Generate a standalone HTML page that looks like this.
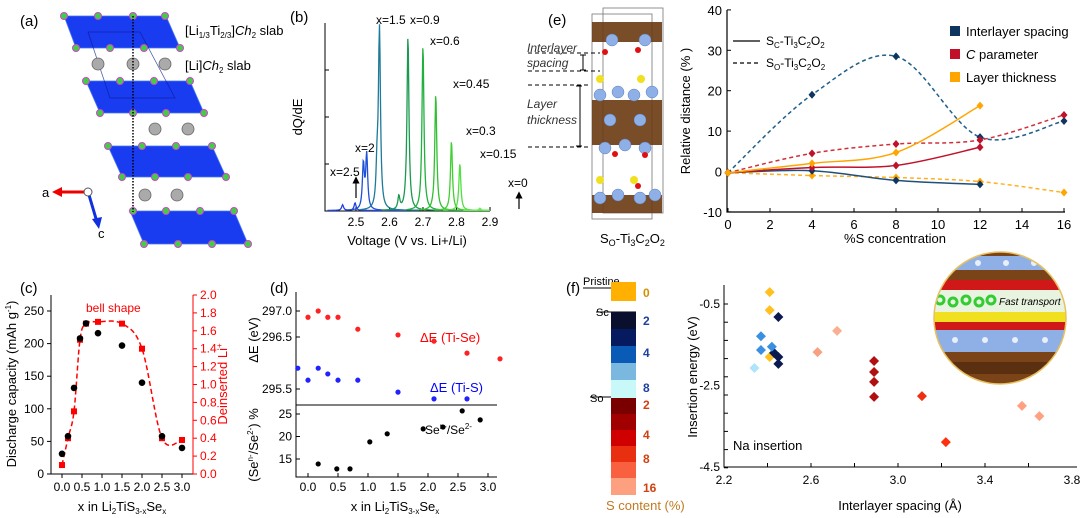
<!DOCTYPE html>
<html><head><meta charset="utf-8"><style>
html,body{margin:0;padding:0;background:#fff;}
svg{display:block;font-family:"Liberation Sans",Arial,sans-serif;}
</style></head><body>
<svg id="fig" width="1080" height="518" viewBox="0 0 1080 518" xmlns="http://www.w3.org/2000/svg">
<defs>
<clipPath id="insetClip"><circle cx="1000" cy="318" r="66"/></clipPath>
<marker id="arrB" markerWidth="6" markerHeight="6" refX="3" refY="3" orient="auto"><path d="M0,0 L6,3 L0,6 z" fill="#000"/></marker>
</defs>

<g>
<text x="20" y="26" font-size="15">(a)</text>
<g fill="#1a3cf0" stroke="#4a7af0" stroke-width="0.8">
<polygon points="64,16 166,16 180,48 76,48"/>
<polygon points="86,81 190,81 204,113 100,113"/>
<polygon points="108,146 212,146 226,177 122,177"/>
<polygon points="130,211 234,211 248,244 144,244"/>
</g>
<g stroke="#0a1a90" stroke-width="0.8" fill="none" opacity="0.7">
<path d="M88,32 L140,32 L175,98 L110,98 Z"/>
</g>
<g fill="#aaa" stroke="#666" stroke-width="0.8">
<circle cx="98" cy="64" r="6"/><circle cx="133" cy="64" r="6"/><circle cx="165" cy="64" r="6"/>
<circle cx="155" cy="129" r="6"/><circle cx="188" cy="129" r="6"/>
<circle cx="145" cy="195" r="6"/><circle cx="177" cy="195" r="6"/>
</g>
<g fill="#4c4" stroke="#c4c" stroke-width="1">
<circle cx="64" cy="16" r="3.5"/><circle cx="98" cy="16" r="3.5"/><circle cx="133" cy="16" r="3.5"/><circle cx="165" cy="16" r="3.5"/>
<circle cx="76" cy="48" r="3.5"/><circle cx="110" cy="48" r="3.5"/><circle cx="144" cy="48" r="3.5"/><circle cx="180" cy="48" r="3.5"/>
<circle cx="86" cy="81" r="3.5"/><circle cx="120" cy="81" r="3.5"/><circle cx="154" cy="81" r="3.5"/><circle cx="190" cy="81" r="3.5"/>
<circle cx="100" cy="113" r="3.5"/><circle cx="133" cy="113" r="3.5"/><circle cx="166" cy="113" r="3.5"/><circle cx="204" cy="113" r="3.5"/>
<circle cx="108" cy="146" r="3.5"/><circle cx="142" cy="146" r="3.5"/><circle cx="176" cy="146" r="3.5"/><circle cx="212" cy="146" r="3.5"/>
<circle cx="122" cy="177" r="3.5"/><circle cx="155" cy="177" r="3.5"/><circle cx="188" cy="177" r="3.5"/><circle cx="226" cy="177" r="3.5"/>
<circle cx="133" cy="211" r="3.5"/><circle cx="166" cy="211" r="3.5"/><circle cx="200" cy="211" r="3.5"/><circle cx="234" cy="211" r="3.5"/>
<circle cx="144" cy="244" r="3.5"/><circle cx="178" cy="244" r="3.5"/><circle cx="212" cy="244" r="3.5"/><circle cx="248" cy="244" r="3.5"/>
</g>
<line x1="133" y1="16" x2="133" y2="212" stroke="#000" stroke-width="1.5" stroke-dasharray="1.5,1.5"/>
<line x1="86" y1="192" x2="58" y2="192" stroke="#e00" stroke-width="3"/>
<polygon points="52,192 62,187 62,197" fill="#e00"/>
<line x1="89" y1="195" x2="97" y2="222" stroke="#1030e0" stroke-width="3"/>
<polygon points="99,229 92,219 102,217" fill="#1030e0"/>
<circle cx="88" cy="192" r="4" fill="#fff" stroke="#555"/>
<text x="42" y="197" font-size="13">a</text>
<text x="98" y="238" font-size="13">c</text>
<text x="185" y="35" font-size="13">[Li<tspan font-size="8" dy="3">1/3</tspan><tspan dy="-3">Ti</tspan><tspan font-size="8" dy="3">2/3</tspan><tspan dy="-3">]</tspan><tspan font-style="italic">Ch</tspan><tspan font-size="8" dy="3">2</tspan><tspan dy="-3"> slab</tspan></text>
<text x="185" y="70" font-size="13">[Li]<tspan font-style="italic">Ch</tspan><tspan font-size="8" dy="3">2</tspan><tspan dy="-3"> slab</tspan></text>
</g>

<g id="pb">
<text x="290" y="22" font-size="15">(b)</text>
<text transform="translate(302,117) rotate(-90)" text-anchor="middle" font-size="13">dQ/dE</text>
<text x="407" y="245" text-anchor="middle" font-size="13">Voltage (V vs. Li+/Li)</text>
</g>

<g>
<text x="548" y="25" font-size="15">(e)</text>
<g stroke="#777" fill="none" stroke-width="0.8"><rect x="592" y="14" width="60" height="205"/><rect x="603" y="8" width="60" height="205"/></g>
<g fill="#6b3a12"><rect x="592" y="22" width="70" height="20" opacity="0.9"/><rect x="592" y="100" width="70" height="45" opacity="0.9"/><rect x="592" y="195" width="70" height="18" opacity="0.9"/></g>
<g fill="#8fb0e6" stroke="#5a7fc0" stroke-width="0.5">
<circle cx="612" cy="40" r="6"/><circle cx="645" cy="40" r="6"/>
<circle cx="600" cy="95" r="6"/><circle cx="618" cy="92" r="6"/><circle cx="634" cy="95" r="6"/><circle cx="652" cy="92" r="6"/>
<circle cx="610" cy="120" r="6"/><circle cx="640" cy="120" r="6"/>
<circle cx="605" cy="148" r="6"/><circle cx="625" cy="145" r="6"/><circle cx="645" cy="148" r="6"/>
<circle cx="600" cy="198" r="6"/><circle cx="618" cy="195" r="6"/><circle cx="640" cy="198" r="6"/><circle cx="655" cy="195" r="6"/>
</g>
<g fill="#e01010"><circle cx="605" cy="52" r="3"/><circle cx="638" cy="50" r="3"/><circle cx="615" cy="154" r="3"/><circle cx="645" cy="155" r="3"/><circle cx="638" cy="186" r="3"/></g>
<g fill="#f0e020"><circle cx="600" cy="79" r="4"/><circle cx="641" cy="79" r="4"/><circle cx="600" cy="180" r="4"/><circle cx="634" cy="180" r="4"/></g>
<g stroke="#000" stroke-dasharray="4,3" stroke-width="1"><line x1="528" y1="53" x2="600" y2="53"/><line x1="528" y1="71" x2="600" y2="71"/><line x1="528" y1="85" x2="590" y2="85"/><line x1="528" y1="147" x2="590" y2="147"/></g>
<path d="M580,55 H586 M583,55 V70 M580,70 H586 M576,86 H582 M580,86 V146 M576,146 H582" stroke="#000" fill="none"/>
<text x="527" y="52" font-size="12" font-style="italic" fill="#333">Interlayer</text>
<text x="527" y="67" font-size="12" font-style="italic" fill="#333">spacing</text>
<text x="527" y="108" font-size="12" font-style="italic" fill="#333">Layer</text>
<text x="527" y="124" font-size="12" font-style="italic" fill="#333">thickness</text>
<text x="600" y="243" font-size="13">S<tspan font-size="9" dy="3">O</tspan><tspan dy="-3">-Ti</tspan><tspan font-size="9" dy="3">3</tspan><tspan dy="-3">C</tspan><tspan font-size="9" dy="3">2</tspan><tspan dy="-3">O</tspan><tspan font-size="9" dy="3">2</tspan></text>
</g>

<g id="pe">
<text transform="translate(690,111) rotate(-90)" text-anchor="middle" font-size="13">Relative distance (% )</text>
<text x="895" y="243" text-anchor="middle" font-size="13">%S concentration</text>
<g>
<line x1="733" y1="41" x2="760" y2="41" stroke="#000" stroke-width="1.2"/>
<text x="766" y="45" font-size="12">S<tspan font-size="8" dy="3">C</tspan><tspan dy="-3">-Ti</tspan><tspan font-size="8" dy="3">3</tspan><tspan dy="-3">C</tspan><tspan font-size="8" dy="3">2</tspan><tspan dy="-3">O</tspan><tspan font-size="8" dy="3">2</tspan></text>
<line x1="733" y1="63" x2="760" y2="63" stroke="#000" stroke-width="1.2" stroke-dasharray="4,3"/>
<text x="766" y="67" font-size="12">S<tspan font-size="8" dy="3">O</tspan><tspan dy="-3">-Ti</tspan><tspan font-size="8" dy="3">3</tspan><tspan dy="-3">C</tspan><tspan font-size="8" dy="3">2</tspan><tspan dy="-3">O</tspan><tspan font-size="8" dy="3">2</tspan></text>
</g>
<g>
<rect x="950" y="26" width="10" height="10" fill="#0d3560"/>
<text x="966" y="36" font-size="13">Interlayer spacing</text>
<rect x="950" y="49" width="10" height="10" fill="#c0102a"/>
<text x="966" y="59" font-size="13"><tspan font-style="italic">C</tspan> parameter</text>
<rect x="950" y="72" width="10" height="10" fill="#ffa500"/>
<text x="966" y="82" font-size="13">Layer thickness</text>
</g>
</g>

<g id="pc">
<text x="20" y="293" font-size="15">(c)</text>
<text x="86" y="312" font-size="12" fill="#f00">bell shape</text>
<text transform="translate(16,384) rotate(-90)" text-anchor="middle" font-size="13">Discharge capacity (mAh g<tspan font-size="8" dy="-5">-1</tspan><tspan dy="5">)</tspan></text>
<text transform="translate(227,384) rotate(-90)" text-anchor="middle" font-size="13" fill="#f00">Deinserted Li<tspan font-size="8" dy="-5">+</tspan></text>
<text x="122" y="511" text-anchor="middle" font-size="13">x in Li<tspan font-size="8" dy="3">2</tspan><tspan dy="-3">TiS</tspan><tspan font-size="8" dy="3">3-x</tspan><tspan dy="-3">Se</tspan><tspan font-size="8" dy="3">x</tspan></text>
</g>

<g id="pd">
<text x="270" y="293" font-size="15">(d)</text>
<text transform="translate(258,340) rotate(-90)" text-anchor="middle" font-size="13">ΔE (eV)</text>
<text transform="translate(258,445) rotate(-90)" text-anchor="middle" font-size="13">(Se<tspan font-size="8" dy="-5">n-</tspan><tspan dy="5">/Se</tspan><tspan font-size="8" dy="-5">2-</tspan><tspan dy="5">) %</tspan></text>
<text x="420" y="342" font-size="13" fill="#f00">ΔE (Ti-Se)</text>
<text x="430" y="392" font-size="13" fill="#00f">ΔE (Ti-S)</text>
<text x="425" y="434" font-size="12">Se<tspan font-size="8" dy="-5">n-</tspan><tspan dy="5">/Se</tspan><tspan font-size="8" dy="-5">2-</tspan></text>
<text x="395" y="511" text-anchor="middle" font-size="13">x in Li<tspan font-size="8" dy="3">2</tspan><tspan dy="-3">TiS</tspan><tspan font-size="8" dy="3">3-x</tspan><tspan dy="-3">Se</tspan><tspan font-size="8" dy="3">x</tspan></text>
</g>

<g id="pf">
<text x="566" y="293" font-size="15">(f)</text>
<text x="583" y="285" font-size="11">Pristine</text>
<line x1="583" y1="288" x2="636" y2="288" stroke="#000"/>
<text x="596" y="316" font-size="11">Sc</text>
<line x1="596" y1="312" x2="636" y2="312" stroke="#000"/>
<text x="590" y="402" font-size="11">So</text>
<line x1="590" y1="397" x2="636" y2="397" stroke="#000"/>
<g id="cbar"></g>
<text x="606" y="510" font-size="13" fill="#c07a20">S content (%)</text>
<text transform="translate(697,377) rotate(-90)" text-anchor="middle" font-size="13">Insertion energy (eV)</text>
<text x="900" y="510" text-anchor="middle" font-size="13">Interlayer spacing (Å)</text>
<text x="733" y="450" font-size="13">Na insertion</text>
<g clip-path="url(#insetClip)">
<rect x="930" y="250" width="140" height="140" fill="#7a4418"/>
<rect x="930" y="256" width="140" height="14" fill="#8fb0e6"/>
<rect x="930" y="280" width="140" height="10" fill="#d01818"/>
<rect x="930" y="290" width="140" height="22" fill="#e8f4e0"/>
<rect x="930" y="312" width="140" height="10" fill="#f0e020"/>
<rect x="930" y="322" width="140" height="8" fill="#d01818"/>
<rect x="930" y="330" width="140" height="22" fill="#8fb0e6"/>
<rect x="930" y="362" width="140" height="12" fill="#5a3010"/>
<g fill="none" stroke="#3c3" stroke-width="3"><circle cx="940" cy="300" r="4"/><circle cx="953" cy="302" r="4"/><circle cx="966" cy="300" r="4"/><circle cx="979" cy="302" r="4"/><circle cx="991" cy="300" r="4"/></g>
<g fill="#fff" opacity="0.8"><circle cx="950" cy="263" r="3"/><circle cx="978" cy="263" r="3"/><circle cx="1006" cy="263" r="3"/><circle cx="1034" cy="263" r="3"/><circle cx="955" cy="340" r="3"/><circle cx="985" cy="340" r="3"/><circle cx="1015" cy="340" r="3"/><circle cx="1045" cy="340" r="3"/></g>
<text x="999" y="305" font-size="10" font-style="italic">Fast transport</text>
</g>
<circle cx="1000" cy="318" r="66" fill="none" stroke="#e8c060" stroke-width="1.5"/>
</g>
</svg>

<script>
// ---------- Panel (b) data ----------
var bSeries = ["x=2.5","x=2","x=1.5","x=0.9","x=0.6","x=0.45","x=0.3","x=0.15","x=0"];
var bPeakPos = [[2.46,2.497],[2.522,2.532],[2.563,2.57],[2.628,2.655],[2.70],[2.738],[2.785],[2.81],[2.87]];
var bPeakHeight = [[0.03,0.04],[0.24,0.29],[0.2,0.95],[0.07,0.93],[0.88],[0.62],[0.37],[0.25],[0.012]];
var bColors = ["#2040e8","#1e50d8","#1d7a9a","#1a9a50","#20b040","#30c030","#40d030","#50e040","#60f050"];
var bXTicks = [2.5,2.6,2.7,2.8,2.9];
// ---------- Panel (c) data ----------
var cX = [0,0.15,0.3,0.45,0.6,0.9,1.5,2.0,2.5,3.0];
var cCapacity = [31,58,132,208,231,216,197,140,58,40];
var cLi = [0.1,0.4,0.7,1.5,1.68,1.7,1.68,1.4,0.4,0.38];
var cXTicks = [0,0.5,1.0,1.5,2.0,2.5,3.0];
var cYLeftTicks = [0,50,100,150,200,250];
var cYRightTicks = [0,0.2,0.4,0.6,0.8,1.0,1.2,1.4,1.6,1.8,2.0];
// ---------- Panel (d) data ----------
var dSeX = [0,0.17,0.33,0.5,0.83,1.5,2.1,2.65,3.2];
var dSeE = [296.88,297.0,296.88,296.88,296.65,296.54,296.42,296.19,296.08];
var dSX = [-0.17,0,0.17,0.33,0.5,0.83,1.5,2.1,2.65];
var dSE = [295.9,295.67,295.9,295.79,295.67,295.67,295.44,295.31,295.31];
var dRatioX = [0.17,0.48,0.7,1.03,1.32,1.92,2.25,2.57,2.87];
var dRatio = [13.9,12.8,12.8,18.8,20.6,21.7,22.1,25.7,23.7];
var dXTicks = [0,0.5,1.0,1.5,2.0,2.5,3.0];
var dTopTicks = [297.0,296.5,295.5];
var dBotTicks = [15,20,25];
// ---------- Panel (e) data ----------
var eX = [0,4,8,12,16];
var eInterDash = [-0.3,19,28.5,8.5,12.5];
var eInterSolid = [-0.3,0.2,-2.2,-3.2];
var eCDash = [-0.3,4.5,6.8,7.8,14];
var eCSolid = [-0.3,1,1.5,6];
var eLayerDash = [-0.3,-1,-1.5,-2.5,-5.2];
var eLayerSolid = [-0.3,2,4.7,16.3];
var eXTicks = [0,2,4,6,8,10,12,14,16];
var eYTicks = [-10,0,10,20,30,40];
// ---------- Panel (f) data ----------
var fSpacing = [2.41,2.41,2.41,2.45,2.45,2.45,2.43,2.37,2.37,2.42,2.34,2.72,2.63,2.89,2.89,2.89,2.89,3.11,3.22,3.57,3.65];
var fEnergy = [-0.21,-0.65,-1.8,-0.82,-1.8,-1.97,-1.7,-1.29,-1.63,-1.55,-2.07,-1.16,-1.68,-1.9,-2.17,-2.41,-2.78,-2.76,-3.89,-3.0,-3.25];
var fColors = ["#ffc020","#ffc020","#ffc020","#0a1a50","#0a1a50","#0a1a50","#0a1a50","#3a90e0","#3a90e0","#3a90e0","#b0e4fa","#f8b090","#f8a080","#b01010","#b01010","#b01010","#b01010","#ee3010","#ff3010","#ffa080","#ffa080"];
var fXTicks = [2.2,2.6,3.0,3.4,3.8];
var fYTicks = [-0.5,-2.5,-4.5];
var cbarColors = ["#ffb000","#0a0f2e","#061a60","#0a5bb5","#7ab8e0","#c8f8f8","#7a0000","#a00000","#d00000","#e83010","#f86040","#fca080"];
var cbarLabels = ["0","2","4","8","2","4","8","16"];

var NS="http://www.w3.org/2000/svg";
function mk(tag,attrs,parent){var e=document.createElementNS(NS,tag);for(var k in attrs)e.setAttribute(k,attrs[k]);parent.appendChild(e);return e;}
function spline(p){var d="M"+p[0][0]+","+p[0][1];for(var i=0;i<p.length-1;i++){var p0=p[i-1]||p[i],p1=p[i],p2=p[i+1],p3=p[i+2]||p2;
 d+=" C"+(p1[0]+(p2[0]-p0[0])/6)+","+(p1[1]+(p2[1]-p0[1])/6)+" "+(p2[0]-(p3[0]-p1[0])/6)+","+(p2[1]-(p3[1]-p1[1])/6)+" "+p2[0]+","+p2[1];}return d;}

// ===== (b) =====
(function(){
var g=document.getElementById("pb");
function X(v){return 356+(v-2.5)*335;} function Y(v){return 211-v*188;}
var ax=mk("path",{d:"M325,23 V211 H490",fill:"none",stroke:"#000","stroke-width":1},g);


for(var t=0;t<4;t++){mk("line",{x1:325,x2:329,y1:211-t*47,y2:211-t*47,stroke:"#000"},g);}
bXTicks.forEach(function(v){mk("line",{x1:X(v),x2:X(v),y1:211,y2:207,stroke:"#000"},g);
 var tx=mk("text",{x:X(v),y:226,"text-anchor":"middle","font-size":12},g);tx.textContent=v.toFixed(1);
 
 });
var g0=0.0035;
bSeries.forEach(function(name,i){
 var pos=bPeakPos[i],hs=bPeakHeight[i];var x0=Math.max(2.415,pos[0]-0.05),x1=Math.min(2.9,pos[pos.length-1]+0.12);
 var pts=[];for(var v=x0;v<=x1;v+=0.0015){var y=0.003;for(var k=0;k<pos.length;k++){y+=hs[k]*g0*g0/((v-pos[k])*(v-pos[k])+g0*g0);}pts.push(X(v).toFixed(1)+","+Y(y).toFixed(1));}
 var pl=mk("polyline",{points:pts.join(" "),fill:"none",stroke:bColors[i],"stroke-width":1.3},g);
 
 
});
var lab=[["x=2.5",330,176],["x=2",355,152],["x=1.5",376,24],["x=0.9",410,24],["x=0.6",430,45],["x=0.45",453,88],["x=0.3",466,135],["x=0.15",480,158],["x=0",508,187]];
lab.forEach(function(l){var t=mk("text",{x:l[1],y:l[2],"font-size":12},g);t.textContent=l[0];
 
 });
mk("line",{x1:356,y1:198,x2:356,y2:180,stroke:"#000","stroke-width":1.2,"marker-end":"url(#arrB)"},g);
mk("line",{x1:519,y1:209,x2:519,y2:195,stroke:"#000","stroke-width":1.2,"marker-end":"url(#arrB)"},g);
})();

// ===== (c) =====
(function(){
var g=document.getElementById("pc");
function X(v){return 62+v*40;} function YL(v){return 474-v*0.652;} function YR(v){return 474-v*89.5;}
var a=mk("path",{d:"M51,295 V474 H193 V295",fill:"none",stroke:"#000"},g);


mk("line",{x1:193,y1:295,x2:193,y2:474,stroke:"#f00"},g);
cYLeftTicks.forEach(function(v){mk("line",{x1:51,x2:47,y1:YL(v),y2:YL(v),stroke:"#000"},g);
 var t=mk("text",{x:44,y:YL(v)+4,"text-anchor":"end","font-size":12},g);t.textContent=v;
 
 });
cYRightTicks.forEach(function(v){mk("line",{x1:193,x2:197,y1:YR(v),y2:YR(v),stroke:"#f00"},g);
 var t=mk("text",{x:200,y:YR(v)+4,"font-size":12,fill:"#f00"},g);t.textContent=v.toFixed(1);
 
 });
cXTicks.forEach(function(v){mk("line",{x1:X(v),x2:X(v),y1:474,y2:478,stroke:"#000"},g);
 var t=mk("text",{x:X(v),y:491,"text-anchor":"middle","font-size":12},g);t.textContent=v.toFixed(1);
 
 });
var rp=cX.map(function(v,i){return [X(v),YR(cLi[i])];});
var rl=mk("path",{d:spline(rp),fill:"none",stroke:"#f00","stroke-width":1.5,"stroke-dasharray":"5,3"},g);


cX.forEach(function(v,i){
 var s=mk("rect",{x:X(v)-3,y:YR(cLi[i])-3,width:6,height:6,fill:"#f00"},g);
 
 
 var c=mk("circle",{cx:X(v),cy:YL(cCapacity[i]),r:3.3,fill:"#000"},g);
 
 });
})();

// ===== (d) =====
(function(){
var g=document.getElementById("pd");
function X(v){return 308+v*60;} function YT(v){return 311+(297-v)*52;} function YB(v){return 414+(25-v)*4.5;}
var a=mk("path",{d:"M296,292 V477 H497 M296,405 H497",fill:"none",stroke:"#000"},g);


dTopTicks.forEach(function(v){mk("line",{x1:296,x2:300,y1:YT(v),y2:YT(v),stroke:"#000"},g);
 var t=mk("text",{x:292,y:YT(v)+4,"text-anchor":"end","font-size":12},g);t.textContent=v.toFixed(1);
 
 });
dBotTicks.forEach(function(v){mk("line",{x1:296,x2:300,y1:YB(v),y2:YB(v),stroke:"#000"},g);
 var t=mk("text",{x:292,y:YB(v)+4,"text-anchor":"end","font-size":12},g);t.textContent=v;
 
 });
dXTicks.forEach(function(v){mk("line",{x1:X(v),x2:X(v),y1:477,y2:473,stroke:"#000"},g);
 var t=mk("text",{x:X(v),y:491,"text-anchor":"middle","font-size":12},g);t.textContent=v.toFixed(1);
 
 });
dSeX.forEach(function(v,i){var c=mk("circle",{cx:X(v),cy:YT(dSeE[i]),r:2.6,fill:"#f22"},g);
 
 });
dSX.forEach(function(v,i){var c=mk("circle",{cx:X(v),cy:YT(dSE[i]),r:2.6,fill:"#22f"},g);
 
 });
dRatioX.forEach(function(v,i){var c=mk("circle",{cx:X(v),cy:YB(dRatio[i]),r:2.6,fill:"#000"},g);
 
 });
})();

// ===== (e) chart =====
(function(){
var g=document.getElementById("pe");
function X(v){return 728+v*21;} function Y(v){return 171.5-v*4.04;}
var a=mk("path",{d:"M727,10 V212 H1065",fill:"none",stroke:"#000","stroke-width":1.2},g);


eYTicks.forEach(function(v){mk("line",{x1:727,x2:731,y1:Y(v),y2:Y(v),stroke:"#000"},g);
 var t=mk("text",{x:722,y:Y(v)+5,"text-anchor":"end","font-size":13},g);t.textContent=v;
 
 });
eXTicks.forEach(function(v){mk("line",{x1:X(v),x2:X(v),y1:212,y2:208,stroke:"#000"},g);
 var t=mk("text",{x:X(v),y:229,"text-anchor":"middle","font-size":13},g);t.textContent=v;
 
 });
var series=[[eInterDash,"#1f5f8b","#0d3560",true,"interlayer-so"],[eCDash,"#d0303a","#c0102a",true,"c-param-so"],[eLayerDash,"#ffb020","#ffa500",true,"layer-thickness-so"],
 [eInterSolid,"#1f4f7b","#0d3560",false,"interlayer-sc"],[eCSolid,"#c0102a","#c0102a",false,"c-param-sc"],[eLayerSolid,"#ffa500","#ffa500",false,"layer-thickness-sc"]];
series.forEach(function(s){
 var pts=s[0].map(function(v,i){return [X(eX[i]),Y(v)];});
 var p=mk("path",{d:spline(pts),fill:"none",stroke:s[1],"stroke-width":1.5},g);
 if(s[3])p.setAttribute("stroke-dasharray","4,3");
 
 
 pts.forEach(function(q){var d=mk("polygon",{points:(q[0])+","+(q[1]-4)+" "+(q[0]+3.5)+","+q[1]+" "+q[0]+","+(q[1]+4)+" "+(q[0]-3.5)+","+q[1],fill:s[2]},g);
  
  });
});
})();

// ===== (f) =====
(function(){
var g=document.getElementById("pf");var cb=document.getElementById("cbar");
var ys=[282,312,329,346,363,380,398,414,430,446,462,478,495];
cbarColors.forEach(function(col,i){var y0=i==0?282:ys[i],y1=i==0?301:ys[i+1];
 var r=mk("rect",{x:611,y:y0,width:25,height:y1-y0,fill:col},cb);
 
 });
var lp=[[297,"#d09000"],[325,"#2040a0"],[357,"#2040a0"],[392,"#2040a0"],[409,"#d04010"],[439,"#d04010"],[463,"#d04010"],[492,"#d04010"]];
cbarLabels.forEach(function(l,i){var t=mk("text",{x:643,y:lp[i][0],"font-size":12,"font-weight":"bold",fill:lp[i][1]},cb);t.textContent=l;
 
 });
function X(v){return 724+(v-2.2)*217.5;} function Y(v){return 304+(-0.5-v)*40.75;}
var a=mk("path",{d:"M724,285 V467 H1077",fill:"none",stroke:"#000"},g);


for(var k=0;k<10;k++){mk("line",{x1:724,x2:728,y1:304+k*18.2,y2:304+k*18.2,stroke:"#000"},g);}
for(var k=0;k<8;k++){mk("line",{x1:724+k*43.5,x2:724+k*43.5,y1:467,y2:463,stroke:"#000"},g);}
fYTicks.forEach(function(v){var t=mk("text",{x:720,y:Y(v)+4,"text-anchor":"end","font-size":12},g);t.textContent=v.toFixed(1);
 
 });
fXTicks.forEach(function(v){var t=mk("text",{x:X(v),y:484,"text-anchor":"middle","font-size":12},g);t.textContent=v.toFixed(1);
 
 });
fSpacing.forEach(function(v,i){var x=X(v),y=Y(fEnergy[i]);
 var d=mk("polygon",{points:x+","+(y-5)+" "+(x+5)+","+y+" "+x+","+(y+5)+" "+(x-5)+","+y,fill:fColors[i]},g);
 
 });
})();
</script>
</body></html>
